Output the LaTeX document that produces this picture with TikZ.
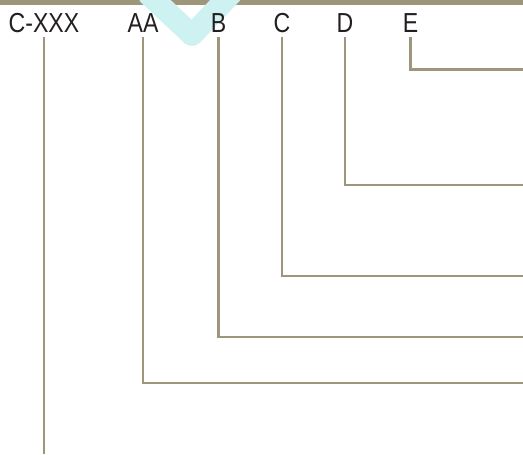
\documentclass[tikz,border=0pt]{standalone}
\usepackage{fontspec}
\setsansfont[FakeStretch=0.84]{Liberation Sans}
\definecolor{barolive}{RGB}{158,150,122}
\definecolor{tagink}{RGB}{35,31,32}
\definecolor{markcyan}{RGB}{206,241,242}
\tikzset{
  topbar/.style={fill=barolive, draw=none},
  watermark/.style={line width=22pt, draw=markcyan, line join=round},
  tag/.style={font=\sffamily\fontsize{27.5}{31}\selectfont, text=tagink, anchor=base, inner xsep=0pt, inner ysep=4pt},
  leader/.style={line width=2.4pt, draw=barolive},
}

\begin{document}
\begin{tikzpicture}[x=1pt, y=1pt]
\useasboundingbox (0,0) rectangle (523,455);
\fill[topbar] (0,455) rectangle (523,450.3);
\draw[watermark] (147,462) -- (192,420) -- (232,462);
% labels along the top
\node[tag] (cxxx) at (44,422) {C-XXX};
\node[tag] (aa) at (143,422) {AA};
\node[tag] (b) at (218.5,422) {B};
\node[tag] (c) at (282,422) {C};
\node[tag] (d) at (345,422) {D};
\node[tag] (e) at (410.5,422) {E};
% free ends on the right edge
\coordinate (eend) at (523,385.5);
\coordinate (dend) at (523,270);
\coordinate (cend) at (523,179);
\coordinate (bend) at (523,118);
\coordinate (aaend) at (523,72);
\coordinate (xend) at (44,1);
\draw[leader] (e.south) |- (eend);
\draw[leader] (d.south) |- (dend);
\draw[leader] (c.south) |- (cend);
\draw[leader] (b.south) |- (bend);
\draw[leader] (aa.south) |- (aaend);
\draw[leader] (cxxx.south) -- (xend);
\end{tikzpicture}
\end{document}
